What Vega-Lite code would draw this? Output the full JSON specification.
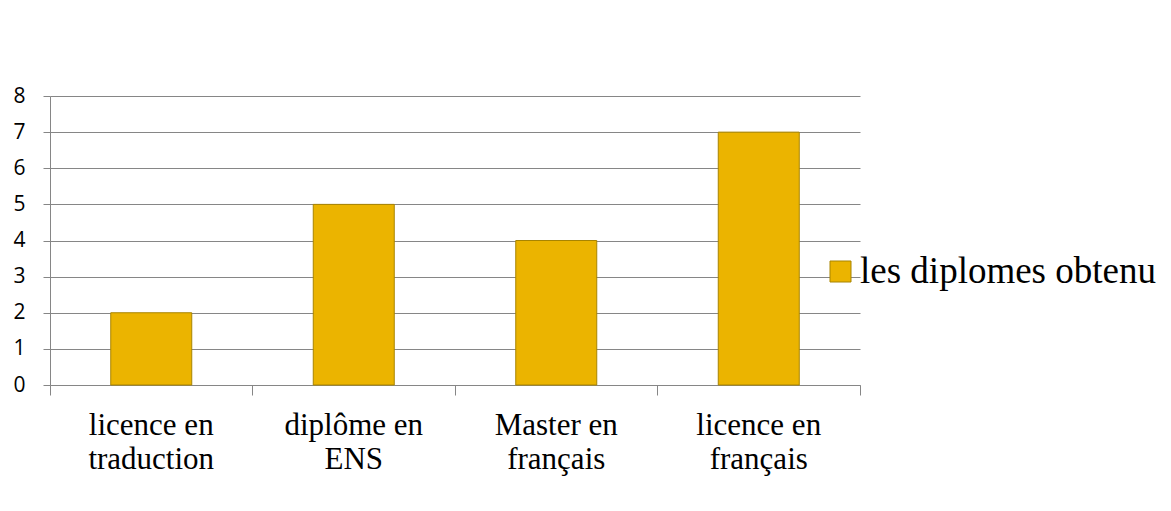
{
  "$schema": "https://vega.github.io/schema/vega-lite/v6.json",
  "autosize": {"type": "none"},
  "width": 810,
  "height": 289,
  "padding": {"left": 50, "top": 96, "right": 311, "bottom": 126},
  "background": "white",
  "config": {"view": {"stroke": null}},
  "data": {"values": [
    {"diplome": "licence en traduction", "valeur": 2, "serie": "les diplomes obtenu"},
    {"diplome": "diplôme en ENS", "valeur": 5, "serie": "les diplomes obtenu"},
    {"diplome": "Master en français", "valeur": 4, "serie": "les diplomes obtenu"},
    {"diplome": "licence en français", "valeur": 7, "serie": "les diplomes obtenu"}
  ]},
  "resolve": {"axis": {"x": "independent"}},
  "layer": [
    {
      "mark": {"type": "bar", "stroke": "#A88400", "strokeWidth": 1},
      "encoding": {
        "x": {
          "field": "diplome", "type": "nominal", "sort": null,
          "scale": {"paddingInner": 0.6, "paddingOuter": 0.3},
          "axis": {
            "title": null, "orient": "bottom", "labelAngle": 0, "ticks": false, "domain": true,
            "domainColor": "#868686", "domainWidth": 1,
            "labelFont": "Liberation Serif", "labelFontSize": 31, "labelColor": "#000000",
            "labelPadding": 25, "labelLineHeight": 34, "labelBaseline": "top", "labelLimit": 300,
            "labelExpr": "[slice(datum.label, 0, indexof(datum.label, ' en ') + 3), slice(datum.label, indexof(datum.label, ' en ') + 4)]"
          }
        },
        "y": {
          "field": "valeur", "type": "quantitative",
          "scale": {"domain": [0, 8], "nice": false},
          "axis": {
            "title": null, "tickCount": 8, "tickMinStep": 1, "labelOverlap": false, "labelFlush": false,
            "grid": true, "gridColor": "#868686", "gridWidth": 1,
            "domain": true, "domainColor": "#868686", "tickColor": "#868686", "tickSize": 7,
            "labelFont": "Open Sans", "labelFontSize": 21, "labelColor": "#000000",
            "labelPadding": 30, "labelAlign": "left"
          }
        },
        "color": {
          "field": "serie", "type": "nominal",
          "scale": {"range": ["#EBB400"]},
          "legend": {
            "title": null, "orient": "none", "legendX": 772, "legendY": 157,
            "padding": 0, "symbolType": "square", "symbolSize": 441,
            "symbolStrokeColor": "#A88400", "symbolStrokeWidth": 1,
            "labelFont": "Liberation Serif", "labelFontSize": 37, "labelColor": "#000000",
            "labelOffset": 1, "labelLimit": 400
          }
        }
      }
    },
    {
      "mark": {"type": "bar", "opacity": 0},
      "encoding": {
        "x": {
          "field": "diplome", "type": "nominal", "sort": null,
          "axis": {
            "title": null, "orient": "bottom", "labels": false, "domain": false, "ticks": true,
            "bandPosition": -0.75, "tickColor": "#868686", "tickSize": 10
          }
        }
      }
    },
    {
      "mark": {"type": "bar", "opacity": 0},
      "encoding": {
        "x": {
          "field": "diplome", "type": "nominal", "sort": null,
          "axis": {
            "title": null, "orient": "bottom", "labels": false, "domain": false, "ticks": true,
            "values": ["licence en français"],
            "bandPosition": 1.75, "tickColor": "#868686", "tickSize": 10
          }
        }
      }
    }
  ]
}
